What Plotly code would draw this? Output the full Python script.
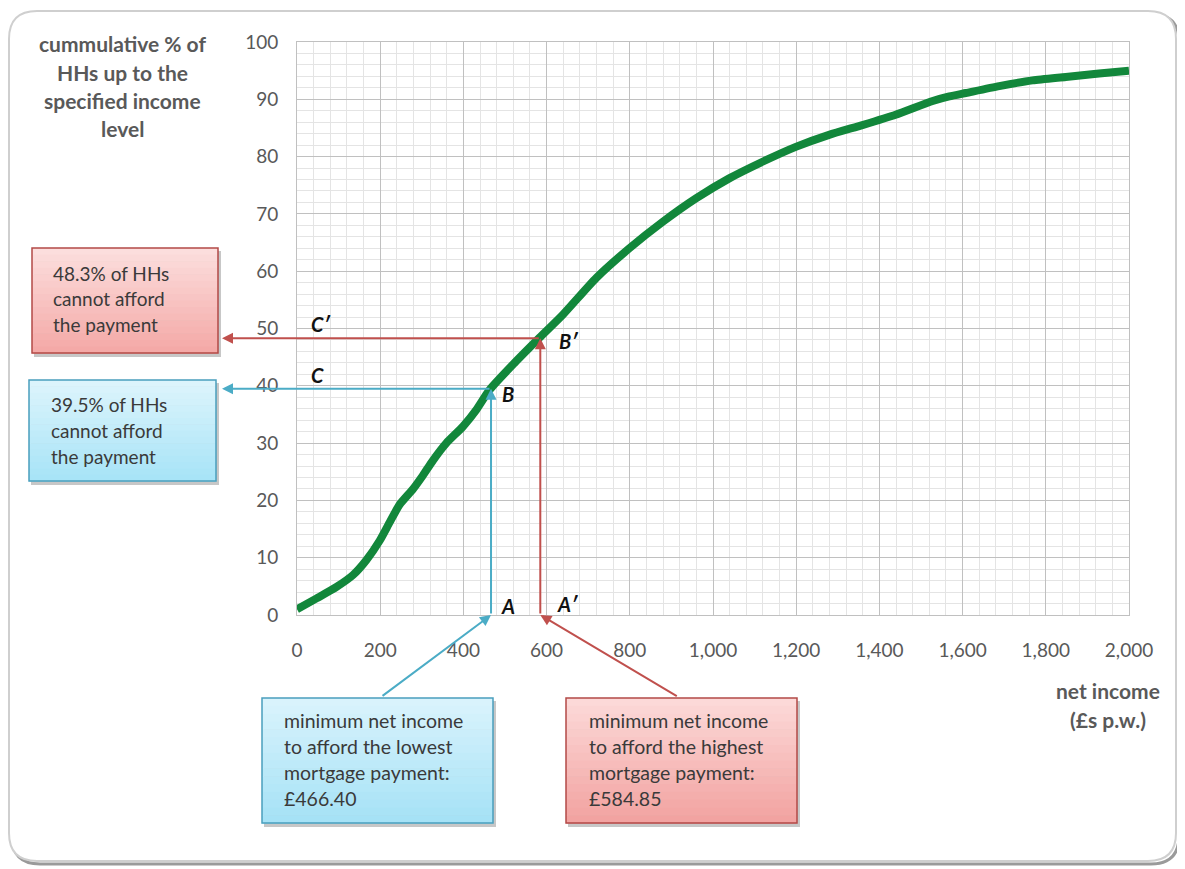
import plotly.graph_objects as go

# ---------------- data ----------------
income = [0, 47, 95, 135, 167, 199, 223, 247, 279, 303, 327, 359, 399, 431, 463, 523, 583,
          639, 719, 799, 879, 959, 1039, 1119, 1199, 1279, 1359, 1439, 1528, 1568, 1608,
          1688, 1768, 1848, 1928, 2000]
cum_pct = [1.0, 2.9, 4.9, 7.0, 9.6, 13.0, 16.2, 19.3, 22.0, 24.4, 27.0, 30.0, 32.9, 35.8, 39.3,
           44.0, 48.4, 52.4, 58.8, 64.0, 68.6, 72.7, 76.2, 79.1, 81.7, 83.8, 85.5, 87.3,
           89.7, 90.5, 91.1, 92.3, 93.3, 93.9, 94.5, 95.0]

low_income, low_pct = 466.40, 39.5
high_income, high_pct = 584.85, 48.3

x_ticks = [0, 200, 400, 600, 800, 1000, 1200, 1400, 1600, 1800, 2000]
y_ticks = [0, 10, 20, 30, 40, 50, 60, 70, 80, 90, 100]

y_title_lines = ["cummulative % of", "HHs up to the", "specified income", "level"]
x_title_lines = ["net income", "(£s p.w.)"]
red_pct_lines = ["48.3% of HHs", "cannot afford", "the payment"]
blue_pct_lines = ["39.5% of HHs", "cannot afford", "the payment"]
blue_inc_lines = ["minimum net income", "to afford the lowest", "mortgage payment:", "£466.40"]
red_inc_lines = ["minimum net income", "to afford the highest", "mortgage payment:", "£584.85"]

# ---------------- geometry helpers (window pixel -> paper) ----------------
WIN_W, WIN_H = 1185, 869
OFF = 8                      # page body margin
W, H = WIN_W - OFF, WIN_H - OFF
L, R, T, B = 297, 1129, 42, 615   # plot area in window pixels
PW, PH = R - L, B - T


def px(x):
    return (x - L) / PW


def py(y):
    return (B - y) / PH


FONT = "Lato"
GREY = "#595959"
TXT = "#3a3a3a"
BLUE = "#4bacc6"
RED = "#c0504d"

fig = go.Figure()
fig.add_trace(go.Scatter(
    x=income, y=cum_pct, mode="lines",
    line=dict(color="#12873b", width=8, shape="spline", smoothing=0.6),
    hoverinfo="skip", showlegend=False, cliponaxis=True,
))

shapes = []
annotations = []


def rounded_path(x0, y0, x1, y1, r):
    return (f"M {px(x0 + r)},{py(y0)} L {px(x1 - r)},{py(y0)} "
            f"Q {px(x1)},{py(y0)} {px(x1)},{py(y0 + r)} "
            f"L {px(x1)},{py(y1 - r)} Q {px(x1)},{py(y1)} {px(x1 - r)},{py(y1)} "
            f"L {px(x0 + r)},{py(y1)} Q {px(x0)},{py(y1)} {px(x0)},{py(y1 - r)} "
            f"L {px(x0)},{py(y0 + r)} Q {px(x0)},{py(y0)} {px(x0 + r)},{py(y0)} Z")


shapes.append(dict(type="path", xref="paper", yref="paper", layer="below",
                   path=rounded_path(12, 14, 1179, 864, 28),
                   line=dict(color="#9a9a9a", width=3), fillcolor="rgba(0,0,0,0)"))
shapes.append(dict(type="path", xref="paper", yref="paper", layer="below",
                   path=rounded_path(9, 11, 1176, 861, 28),
                   line=dict(color="#cfcfcf", width=2), fillcolor="white"))


def hex2rgb(h):
    h = h.lstrip("#")
    return tuple(int(h[i:i + 2], 16) for i in (0, 2, 4))


def gradient_box(x0, y0, x1, y1, c_top, c_bot, border, n=16):
    shapes.append(dict(type="rect", xref="paper", yref="paper", layer="above",
                       x0=px(x0 + 2), x1=px(x1 + 3), y0=py(y0 + 3), y1=py(y1 + 4),
                       line=dict(width=0), fillcolor="rgba(0,0,0,0.22)"))
    a, b = hex2rgb(c_top), hex2rgb(c_bot)
    for i in range(n):
        t = i / (n - 1)
        c = tuple(round(a[k] + (b[k] - a[k]) * t) for k in range(3))
        ya = y0 + (y1 - y0) * i / n
        yb = y0 + (y1 - y0) * (i + 1) / n
        shapes.append(dict(type="rect", xref="paper", yref="paper", layer="above",
                           x0=px(x0), x1=px(x1), y0=py(ya), y1=py(yb + 0.5),
                           line=dict(width=0), fillcolor=f"rgb{c}"))
    shapes.append(dict(type="rect", xref="paper", yref="paper", layer="above",
                       x0=px(x0), x1=px(x1), y0=py(y0), y1=py(y1),
                       line=dict(color=border, width=1.5), fillcolor="rgba(0,0,0,0)"))


def text_lines(lines, x, y_first, step, size=17, color=TXT, anchor="left", bold=False):
    for i, s in enumerate(lines):
        annotations.append(dict(
            text=f"<b>{s}</b>" if bold else s, xref="paper", yref="paper",
            x=px(x), y=py(y_first + i * step), xanchor=anchor, yanchor="middle",
            showarrow=False, font=dict(family=FONT, size=size, color=color)))


gradient_box(32, 248, 218, 353, "#fcdedd", "#f4a9a7", "#b24a47")
gradient_box(29, 380, 216, 481, "#dcf4fc", "#a8e4f7", "#4a9fbd")
gradient_box(262, 698, 493, 823, "#d9f3fc", "#a6e2f6", "#4a9fbd")
gradient_box(566, 698, 797, 823, "#fcd9d8", "#f2a3a1", "#b24a47")

text_lines(red_pct_lines, 51, 273, 25.5, size=19)
text_lines(blue_pct_lines, 49, 405, 25.5, size=19)
text_lines(blue_inc_lines, 282, 720, 26, size=19.5)
text_lines(red_inc_lines, 587, 720, 26, size=19.5)

text_lines(y_title_lines, 122, 44, 28, size=21, color=GREY, anchor="center", bold=True)
text_lines(x_title_lines, 1108, 690, 29, size=21, color=GREY, anchor="center", bold=True)


def arrow(x, y, ax, ay, color, axref="x", ayref="y"):
    annotations.append(dict(
        x=x, y=y, xref="x", yref="y", ax=ax, ay=ay, axref=axref, ayref=ayref,
        text="", showarrow=True, arrowhead=2, arrowsize=1.1, arrowwidth=2,
        arrowcolor=color, standoff=0, startstandoff=0))


left_end = (222 - L) / PW * (x_ticks[-1] - x_ticks[0])
arrow(low_income, low_pct, low_income, 0, BLUE)
arrow(left_end, low_pct, low_income, low_pct, BLUE)
arrow(high_income, high_pct, high_income, 0, RED)
arrow(left_end, high_pct, high_income, high_pct, RED)
arrow(low_income, 0, -110, 82, BLUE, axref="pixel", ayref="pixel")
arrow(high_income, 0, 138, 82, RED, axref="pixel", ayref="pixel")


def label(s, x, y, xs, ys):
    annotations.append(dict(text=f"<b><i>{s}</i></b>", x=x, y=y, xref="x", yref="y",
                            xanchor="left", yanchor="middle", xshift=xs, yshift=ys,
                            showarrow=False, font=dict(family=FONT, size=20, color="#111111")))


label("C\u2032", 30, high_pct, 0, 14)
label("C", 30, low_pct, 0, 14)
label("B\u2032", high_income, high_pct, 17, -3)
label("B", low_income, low_pct, 9, -5)
label("A", low_income, 0, 8, 9)
label("A\u2032", high_income, 0, 15, 11)

fig.update_layout(
    width=W, height=H, autosize=False,
    margin=dict(l=L - OFF, r=WIN_W - R, t=T - OFF, b=WIN_H - B),
    paper_bgcolor="white", plot_bgcolor="rgba(0,0,0,0)",
    font=dict(family=FONT, color=GREY),
    shapes=shapes, annotations=annotations, showlegend=False,
    xaxis=dict(range=[0, 2000], tickvals=x_ticks, ticktext=[f"{v:,}" for v in x_ticks],
               showgrid=True, gridcolor="#c0c0c0", gridwidth=1,
               minor=dict(dtick=40, showgrid=True, gridcolor="#e4e4e4", gridwidth=1),
               showline=True, linecolor="#c0c0c0", linewidth=1, mirror=True,
               zeroline=False, ticks="", ticklabelstandoff=18,
               tickfont=dict(family=FONT, size=19, color=GREY), fixedrange=True),
    yaxis=dict(range=[0, 100], tickvals=y_ticks,
               showgrid=True, gridcolor="#c0c0c0", gridwidth=1,
               minor=dict(dtick=2, showgrid=True, gridcolor="#e4e4e4", gridwidth=1),
               showline=True, linecolor="#c0c0c0", linewidth=1, mirror=True,
               zeroline=False, ticks="", ticklabelstandoff=14,
               tickfont=dict(family=FONT, size=19, color=GREY), fixedrange=True),
)

fig.write_html("out.html")
